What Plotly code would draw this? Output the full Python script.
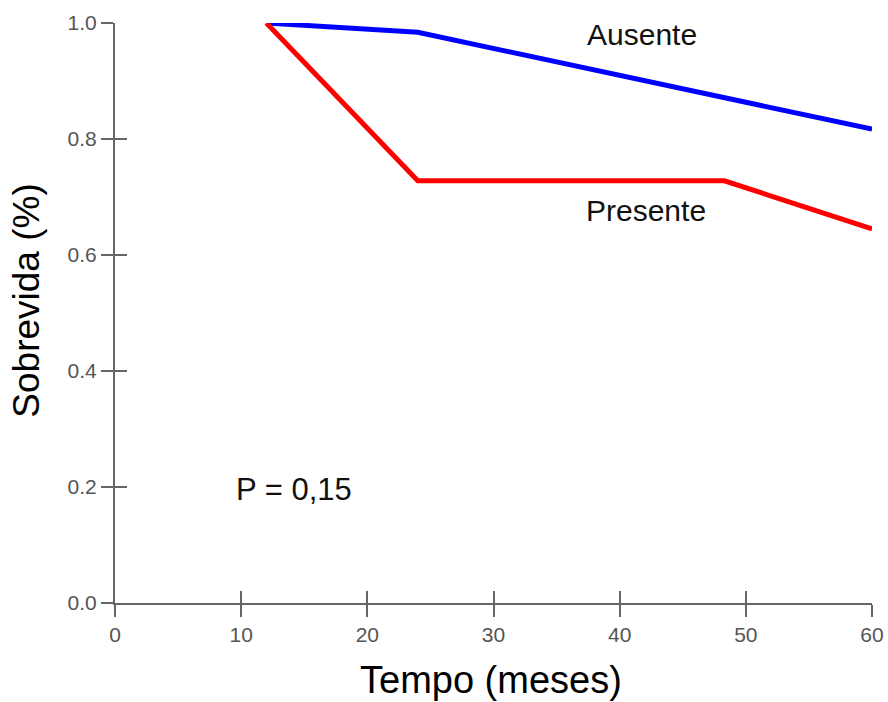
import plotly.graph_objects as go

# Survival curves (Kaplan-Meier style), time in months
tempo_ausente = [12, 24, 60]
sobrevida_ausente = [1.0, 0.984, 0.817]

tempo_presente = [12, 24, 48.3, 60]
sobrevida_presente = [1.0, 0.728, 0.728, 0.645]

x_ticks = [0, 10, 20, 30, 40, 50, 60]
y_ticks = [0.0, 0.2, 0.4, 0.6, 0.8, 1.0]
y_tick_text = ["0.0", "0.2", "0.4", "0.6", "0.8", "1.0"]

FONT = "Liberation Sans, Arial, sans-serif"
AXIS_COLOR = "#666666"

fig = go.Figure()

fig.add_trace(go.Scatter(
    x=tempo_ausente, y=sobrevida_ausente, mode="lines",
    line=dict(color="#0000FF", width=5), cliponaxis=False,
    name="Ausente", showlegend=False, hoverinfo="skip",
))
fig.add_trace(go.Scatter(
    x=tempo_presente, y=sobrevida_presente, mode="lines",
    line=dict(color="#FF0000", width=5), cliponaxis=False,
    name="Presente", showlegend=False, hoverinfo="skip",
))
# empty trace that anchors the overlay axes (inner half of the crossing ticks)
fig.add_trace(go.Scatter(x=[], y=[], xaxis="x2", yaxis="y2",
                         showlegend=False, hoverinfo="skip"))

common_axis = dict(
    showgrid=False, zeroline=False, automargin=False,
    tickcolor=AXIS_COLOR, tickwidth=2, ticklen=12,
    tickfont=dict(family=FONT, size=21, color="#555555"),
)

fig.update_layout(
    width=888, height=702,
    margin=dict(l=114.5, r=16.3, t=23.3, b=98.7, autoexpand=False),
    plot_bgcolor="white", paper_bgcolor="white",
    xaxis=dict(range=[0, 60], tickvals=x_ticks, ticks="outside",
               showline=True, linecolor=AXIS_COLOR, linewidth=2,
               ticklabelstandoff=0, **common_axis),
    yaxis=dict(range=[0, 1], tickvals=y_ticks, ticktext=y_tick_text,
               ticks="outside", showline=True, linecolor=AXIS_COLOR,
               linewidth=2, ticklabelstandoff=0, **common_axis),
    xaxis2=dict(range=[0, 60], tickvals=x_ticks, ticks="inside",
                overlaying="x", anchor="y2", showline=False,
                showticklabels=False, **common_axis),
    yaxis2=dict(range=[0, 1], tickvals=y_ticks, ticks="inside",
                overlaying="y", anchor="x2", side="left", showline=False,
                showticklabels=False, **common_axis),
    showlegend=False,
)

annotations = [
    dict(text="Ausente", x=41.8, y=0.98, xref="x", yref="y",
         font=dict(family=FONT, size=30, color="#111111")),
    dict(text="Presente", x=42.1, y=0.677, xref="x", yref="y",
         font=dict(family=FONT, size=30, color="#111111")),
    dict(text="P = 0,15", x=14.15, y=0.196, xref="x", yref="y",
         font=dict(family=FONT, size=31, color="#111111")),
    dict(text="Tempo (meses)", x=0.497, y=-0.132,
         xref="paper", yref="paper",
         font=dict(family=FONT, size=38, color="#000000")),
    dict(text="Sobrevida (%)", x=-0.117, y=0.522,
         xref="paper", yref="paper", textangle=-90,
         font=dict(family=FONT, size=37, color="#000000")),
]
for a in annotations:
    a.update(showarrow=False, xanchor="center", yanchor="middle")
fig.update_layout(annotations=annotations)

fig.write_html("out.html")
